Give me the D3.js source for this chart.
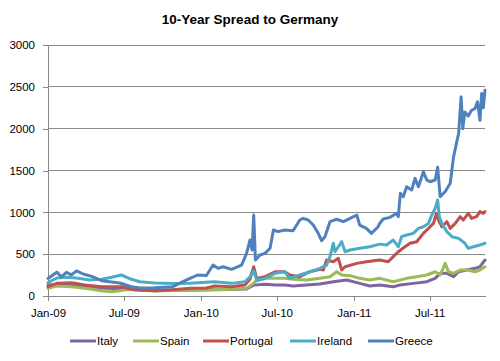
<!DOCTYPE html>
<html>
<head>
<meta charset="utf-8">
<script src="https://cdn.jsdelivr.net/npm/d3@7"></script>
<style>
  body { margin: 0; background: #fff; }
  text { font-family: "Liberation Sans", Arial, sans-serif; fill: #000; }
</style>
</head>
<body>
<div id="chart"></div>
<script>
var seriesNames = ["Italy", "Spain", "Portugal", "Ireland", "Greece"];
var seriesColors = ["#8064A2", "#9BBB59", "#C0504D", "#4BACC6", "#4F81BD"];
var yTicks = [0, 500, 1000, 1500, 2000, 2500, 3000];
var xTicks = ["2009-01-01", "2009-07-01", "2010-01-01", "2010-07-01", "2011-01-01", "2011-07-01"];

var italy = [["2009-01-01",130],["2009-02-14",140],["2009-03-30",120],["2009-05-09",95],["2009-07-03",85],
  ["2009-09-13",70],["2009-10-26",72],["2009-12-06",70],["2010-01-14",75],["2010-03-15",78],["2010-04-20",85],
  ["2010-05-07",130],["2010-06-03",140],["2010-06-27",131],["2010-07-20",131],["2010-08-09",119],["2010-09-10",131],
  ["2010-10-12",143],["2010-11-13",171],["2010-12-15",191],["2011-01-15",151],["2011-02-08",119],["2011-03-04",131],
  ["2011-04-05",111],["2011-04-21",131],["2011-05-23",151],["2011-06-24",171],["2011-07-14",211],["2011-07-26",271],
  ["2011-08-11",271],["2011-08-27",231],["2011-09-08",290],["2011-09-27",311],["2011-10-17",331],["2011-10-29",350],
  ["2011-11-10",430]];

var spain = [["2009-01-01",92],["2009-01-22",119],["2009-02-26",111],["2009-03-30",92],["2009-05-09",64],
  ["2009-06-02",52],["2009-07-03",72],["2009-07-27",80],["2009-09-13",60],["2009-10-26",65],["2009-12-06",72],
  ["2010-01-14",72],["2010-03-15",80],["2010-04-20",92],["2010-05-02",131],["2010-05-10",171],["2010-06-03",211],
  ["2010-06-27",211],["2010-07-20",211],["2010-08-09",199],["2010-09-10",191],["2010-10-12",211],["2010-11-05",231],
  ["2010-11-21",290],["2010-12-03",251],["2010-12-23",243],["2011-01-15",211],["2011-02-08",191],["2011-03-04",211],
  ["2011-04-05",171],["2011-05-07",211],["2011-05-31",231],["2011-06-24",251],["2011-07-14",290],["2011-07-26",251],
  ["2011-08-07",390],["2011-08-15",290],["2011-08-27",271],["2011-09-12",311],["2011-10-01",311],["2011-10-17",290],
  ["2011-10-29",311],["2011-11-10",350]];

var portugal = [["2009-01-01",111],["2009-01-22",151],["2009-02-26",159],["2009-03-30",131],["2009-05-09",111],
  ["2009-06-25",111],["2009-07-27",72],["2009-09-13",64],["2009-10-26",75],["2009-12-06",92],["2010-01-14",95],
  ["2010-02-03",119],["2010-03-15",110],["2010-04-16",131],["2010-04-28",200],["2010-05-02",271],["2010-05-07",350],
  ["2010-05-14",211],["2010-06-03",231],["2010-06-27",290],["2010-07-20",290],["2010-08-01",251],["2010-08-25",231],
  ["2010-09-18",290],["2010-10-12",319],["2010-10-20",311],["2010-10-28",430],["2010-11-13",410],["2010-11-25",450],
  ["2010-12-03",311],["2010-12-11",350],["2011-01-08",390],["2011-01-31",410],["2011-03-04",430],["2011-03-24",410],
  ["2011-04-05",470],["2011-04-17",529],["2011-05-03",589],["2011-05-15",630],["2011-05-31",649],["2011-06-16",749],
  ["2011-07-02",828],["2011-07-10",868],["2011-07-17",988],["2011-07-22",908],["2011-07-30",828],["2011-08-11",888],
  ["2011-08-19",809],["2011-08-31",868],["2011-09-12",948],["2011-09-19",908],["2011-10-01",988],["2011-10-09",928],
  ["2011-10-21",948],["2011-10-29",1008],["2011-11-06",988],["2011-11-10",1008]];

var ireland = [["2009-01-01",160],["2009-01-22",215],["2009-02-14",225],["2009-03-10",215],["2009-04-11",190],
  ["2009-05-09",200],["2009-06-02",225],["2009-06-25",251],["2009-07-19",200],["2009-08-08",170],["2009-09-13",155],
  ["2009-10-26",150],["2009-12-06",151],["2010-01-14",165],["2010-02-03",171],["2010-03-15",151],["2010-04-16",171],
  ["2010-05-02",251],["2010-05-07",302],["2010-05-14",191],["2010-06-03",211],["2010-06-27",271],["2010-07-20",290],
  ["2010-08-01",211],["2010-08-25",251],["2010-09-18",290],["2010-10-12",331],["2010-10-28",370],["2010-11-05",470],
  ["2010-11-13",630],["2010-11-17",529],["2010-11-25",589],["2010-12-03",649],["2010-12-11",529],["2010-12-23",550],
  ["2011-01-15",570],["2011-02-08",589],["2011-03-04",620],["2011-03-20",610],["2011-04-05",669],["2011-04-17",589],
  ["2011-04-25",709],["2011-05-07",729],["2011-05-23",749],["2011-06-04",809],["2011-06-16",828],["2011-06-28",868],
  ["2011-07-06",968],["2011-07-14",1048],["2011-07-20",1147],["2011-07-24",948],["2011-07-30",868],["2011-08-11",769],
  ["2011-08-23",709],["2011-09-08",689],["2011-09-23",630],["2011-10-01",570],["2011-10-13",589],["2011-10-29",610],
  ["2011-11-10",630]];

var greece = [["2009-01-01",210],["2009-01-22",285],["2009-02-02",230],["2009-02-14",283],["2009-02-26",252],
  ["2009-03-10",300],["2009-03-26",263],["2009-04-15",235],["2009-05-09",183],["2009-06-02",167],["2009-06-21",155],
  ["2009-07-19",110],["2009-08-08",95],["2009-09-13",100],["2009-10-26",111],["2009-11-19",171],["2009-12-06",211],
  ["2009-12-24",251],["2010-01-14",245],["2010-01-30",370],["2010-02-11",331],["2010-02-23",350],["2010-03-15",319],
  ["2010-04-08",370],["2010-04-20",510],["2010-04-28",669],["2010-05-03",550],["2010-05-07",968],["2010-05-11",430],
  ["2010-05-22",490],["2010-06-03",510],["2010-06-15",570],["2010-06-23",789],["2010-07-04",769],["2010-07-20",789],
  ["2010-08-09",780],["2010-08-25",908],["2010-09-02",928],["2010-09-14",908],["2010-09-26",848],["2010-10-08",749],
  ["2010-10-16",661],["2010-10-24",709],["2010-11-05",888],["2010-11-21",917],["2010-12-07",888],["2010-12-23",928],
  ["2011-01-08",968],["2011-01-15",848],["2011-01-31",809],["2011-02-12",749],["2011-02-28",828],["2011-03-04",870],
  ["2011-03-12",920],["2011-03-28",940],["2011-04-13",988],["2011-04-17",948],["2011-04-22",1227],["2011-04-29",1187],
  ["2011-05-07",1306],["2011-05-19",1267],["2011-05-27",1406],["2011-06-04",1306],["2011-06-16",1485],["2011-06-24",1386],
  ["2011-07-02",1366],["2011-07-14",1386],["2011-07-20",1538],["2011-07-26",1187],["2011-08-07",1247],["2011-08-19",1347],
  ["2011-08-27",1665],["2011-09-08",1944],["2011-09-14",2380],["2011-09-18",2000],["2011-09-23",2200],["2011-10-01",2150],
  ["2011-10-09",2220],["2011-10-17",2240],["2011-10-23",2320],["2011-10-29",2100],["2011-11-02",2420],["2011-11-06",2250],
  ["2011-11-10",2460]];

var seriesData = [italy, spain, portugal, ireland, greece];

var svgWidth = 500;
var svgHeight = 361;
var margin = { top: 45, right: 15, bottom: 65, left: 48 };
var width = svgWidth - margin.left - margin.right;
var height = svgHeight - margin.top - margin.bottom;

var parseDate = d3.timeParse("%Y-%m-%d");

var svg = d3.select("#chart")
  .append("svg")
  .attr("width", svgWidth)
  .attr("height", svgHeight);

svg.append("text")
  .attr("x", svgWidth / 2)
  .attr("y", 24)
  .attr("text-anchor", "middle")
  .style("font-weight", "bold")
  .style("font-size", "13.5px")
  .text("10-Year Spread to Germany");

var chartGroup = svg.append("g")
  .attr("transform", `translate(${margin.left}, ${margin.top})`);

var xScale = d3.scaleTime()
  .domain([parseDate("2009-01-01"), parseDate("2011-11-10")])
  .range([0, width]);
var yScale = d3.scaleLinear()
  .domain([0, 3000])
  .range([height, 0]);

// gridlines
chartGroup.append("g")
  .selectAll("line")
  .data(yTicks.slice(1))
  .enter()
  .append("line")
  .attr("x1", 0)
  .attr("x2", width)
  .attr("y1", d => yScale(d))
  .attr("y2", d => yScale(d))
  .attr("stroke", "#8a8a8a")
  .attr("stroke-width", 1)
  .attr("shape-rendering", "crispEdges");

var leftAxis = d3.axisLeft(yScale)
  .tickValues(yTicks)
  .tickFormat(d3.format("d"))
  .tickSize(5)
  .tickPadding(8)
  .tickSizeOuter(0);
var bottomAxis = d3.axisBottom(xScale)
  .tickValues(xTicks.map(parseDate))
  .tickFormat(d3.timeFormat("%b-%y"))
  .tickSize(5)
  .tickPadding(8)
  .tickSizeOuter(0);

var yAxisG = chartGroup.append("g").call(leftAxis);
var xAxisG = chartGroup.append("g")
  .attr("transform", `translate(0, ${height})`)
  .call(bottomAxis);

[yAxisG, xAxisG].forEach(function (g) {
  g.selectAll("path, line").attr("stroke", "#8a8a8a").attr("shape-rendering", "crispEdges");
  g.selectAll("text").style("font-size", "11.5px").style("font-family", "'Liberation Sans', Arial, sans-serif").attr("fill", "#000");
});

var line = d3.line()
  .x(d => xScale(parseDate(d[0])))
  .y(d => yScale(d[1]));

chartGroup.selectAll(".series")
  .data(seriesData)
  .enter()
  .append("path")
  .attr("class", "series")
  .attr("fill", "none")
  .attr("stroke", (d, i) => seriesColors[i])
  .attr("stroke-width", 3)
  .attr("stroke-linejoin", "round")
  .attr("stroke-linecap", "round")
  .attr("d", line);

// legend
var legendX = [70, 133, 203, 290, 368];
var legend = svg.append("g").attr("transform", "translate(0, 341)");
var items = legend.selectAll(".item")
  .data(seriesNames)
  .enter()
  .append("g")
  .attr("class", "item")
  .attr("transform", (d, i) => `translate(${legendX[i]}, 0)`);
items.append("line")
  .attr("x1", 0)
  .attr("x2", 26)
  .attr("stroke", (d, i) => seriesColors[i])
  .attr("stroke-width", 3);
items.append("text")
  .attr("x", 27)
  .attr("y", 4)
  .style("font-size", "11.5px")
  .text(d => d);
</script>
</body>
</html>
